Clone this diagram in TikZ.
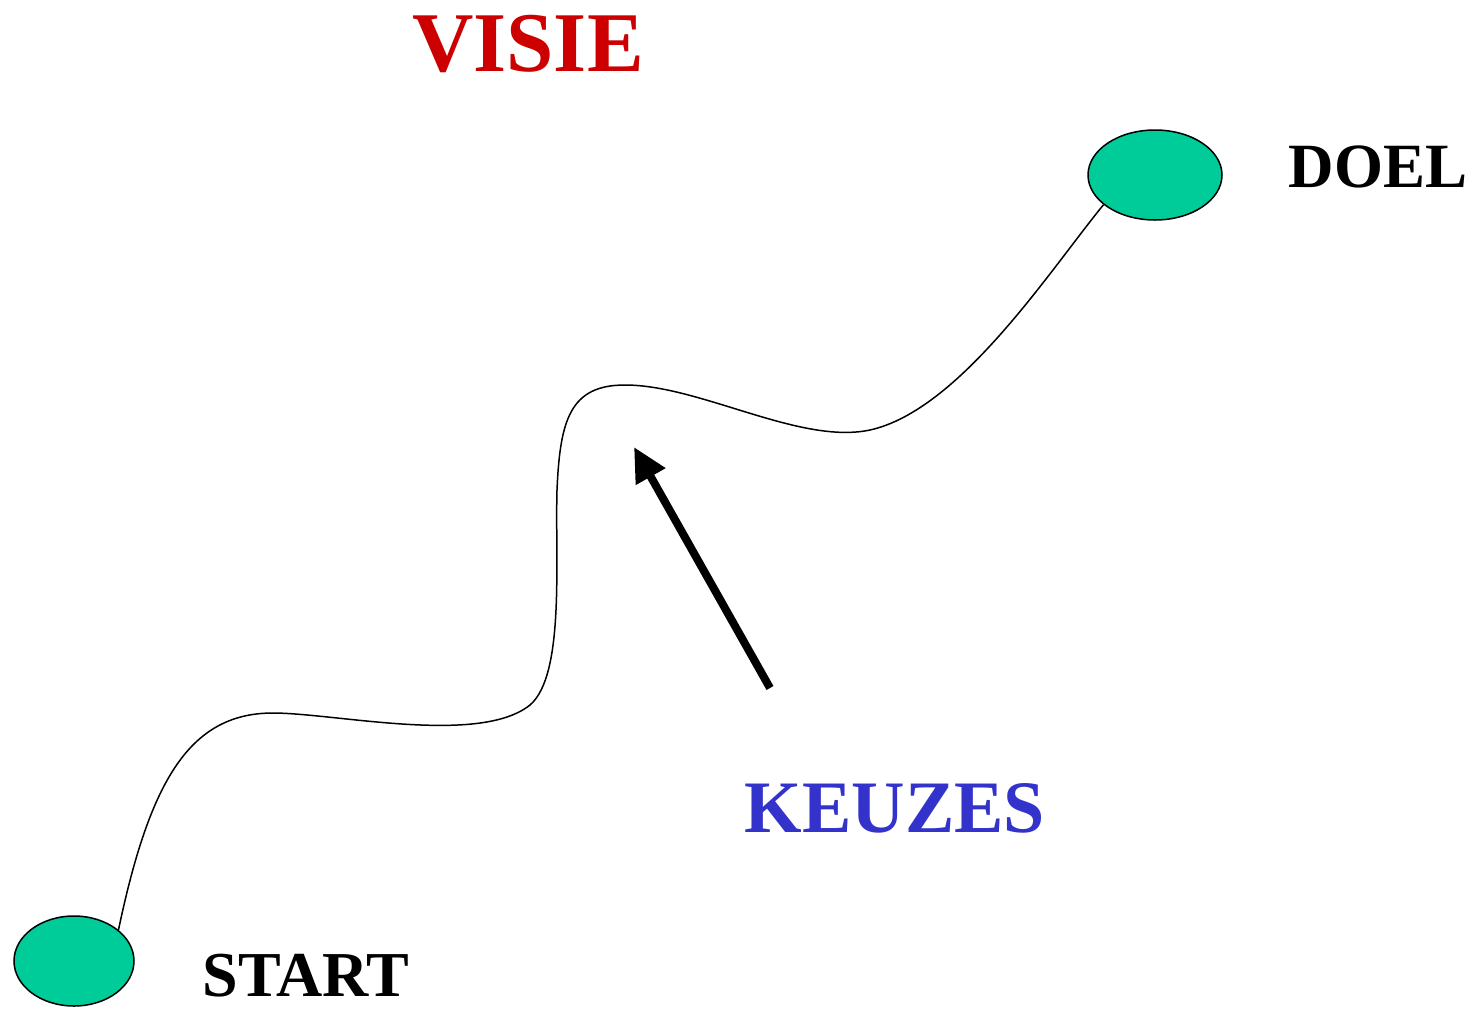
\documentclass[tikz,border=0pt]{standalone}
\usepackage{fontspec}
\setmainfont{Liberation Serif}
\usetikzlibrary{shapes.geometric,arrows.meta}
\definecolor{dotgreen}{HTML}{00CC99}
\definecolor{visered}{HTML}{CC0000}
\definecolor{keuzeblue}{HTML}{3333CC}
\begin{document}
\begin{tikzpicture}[x=1pt,y=-1pt,
  dot/.style={ellipse,draw=black,line width=1.5pt,fill=dotgreen,inner sep=0pt},
  lbl/.style={font=\bfseries,inner sep=0pt,anchor=center}]
\useasboundingbox (0,0) rectangle (1483,1010);
\node[dot,minimum width=120pt,minimum height=90pt] (start) at (74,961) {};
\node[dot,minimum width=134pt,minimum height=90pt] (doel) at (1155,175) {};
\node[lbl,text=visered,font=\bfseries\fontsize{85}{85}\selectfont] (visie) at (528,44) {VISIE};
\node[lbl,font=\bfseries\fontsize{63}{63}\selectfont] (doellbl) at (1378,167) {DOEL};
\node[lbl,font=\bfseries\fontsize{64}{64}\selectfont,text depth=0pt,anchor=base] (startlbl) at (306,996) {START};
\node[lbl,text=keuzeblue,font=\bfseries\fontsize{74}{74}\selectfont] (keuzes) at (895,808) {KEUZES};
\draw[line width=1.5pt] (start.35)
  .. controls (150,780) and (190,712) .. (275,713)
  .. controls (340,714) and (480,745) .. (530,705)
  .. controls (565,675) and (555,560) .. (557,490)
  .. controls (560,420) and (570,385) .. (625,385)
  .. controls (700,385) and (800,445) .. (870,430)
  .. controls (960,410) and (1050,270) .. (doel.210);
\coordinate (atail) at (770,688);
\coordinate (atip) at (634,447);
\draw[line width=8pt,-{Triangle[length=34pt,width=32pt]}] (atail) -- (atip);
\end{tikzpicture}
\end{document}
